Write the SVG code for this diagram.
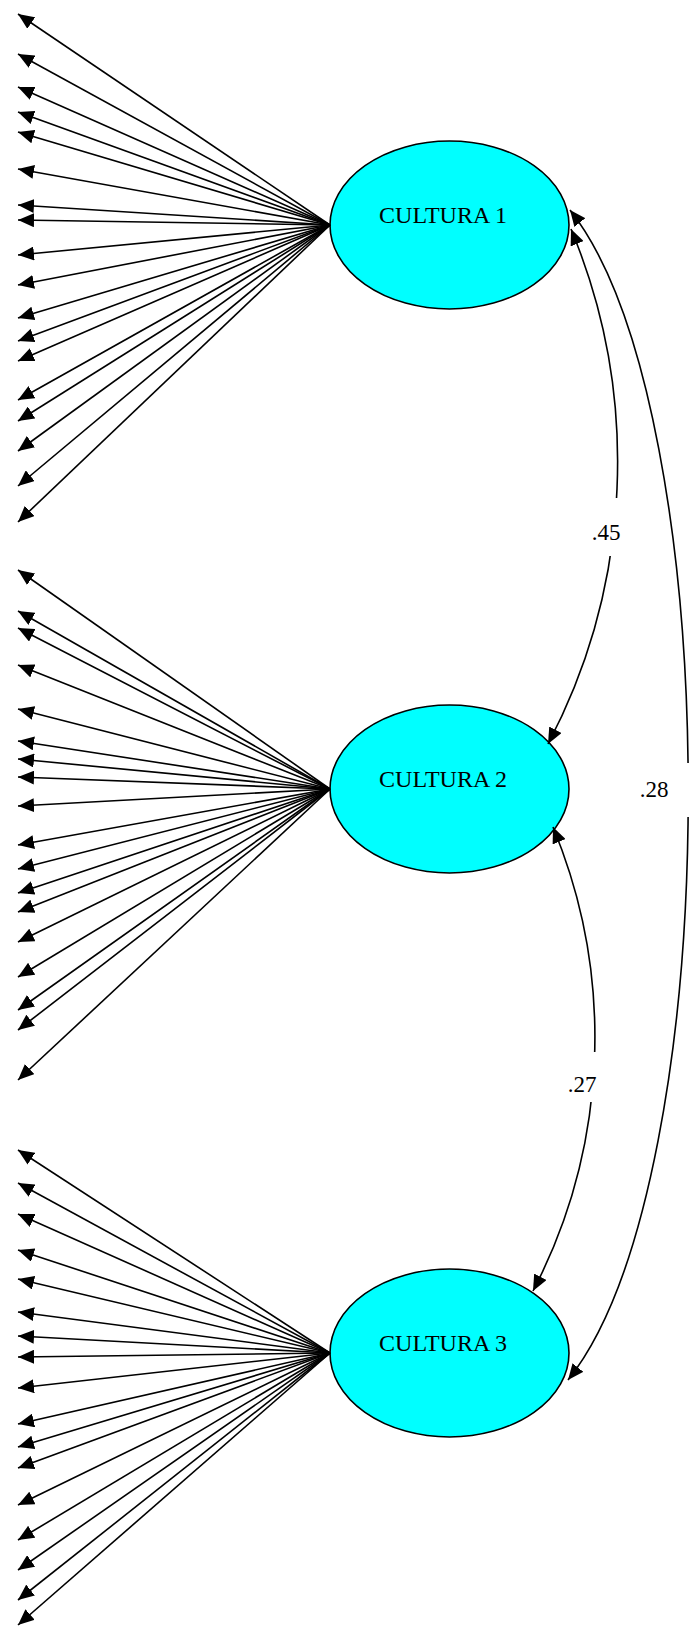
<svg xmlns="http://www.w3.org/2000/svg" width="700" height="1630" viewBox="0 0 700 1630">
<style>
.lat{fill:#00FFFF;stroke:#000;stroke-width:1.6}
.lbl{font-family:"Liberation Serif","Times New Roman",serif;font-size:24px;fill:#000;text-anchor:middle}
.num{font-family:"Liberation Serif","Times New Roman",serif;font-size:23px;fill:#000;text-anchor:middle}
.ln{stroke:#000;stroke-width:1.6;fill:none;marker-end:url(#ah)}
.cv{stroke:#000;stroke-width:1.6;fill:none;marker-end:url(#ah);marker-start:url(#ahs)}
</style>
<defs>
<marker id="ah" markerUnits="userSpaceOnUse" markerWidth="16" markerHeight="14" refX="16" refY="7" orient="auto"><path d="M0,0 L16,7 L0,14 z" fill="#000"/></marker>
<marker id="ahs" markerUnits="userSpaceOnUse" markerWidth="16" markerHeight="14" refX="16" refY="7" orient="auto-start-reverse"><path d="M0,0 L16,7 L0,14 z" fill="#000"/></marker>
</defs>
<rect width="700" height="1630" fill="#fff"/>
<g id="cultura1"><ellipse class="lat" cx="449.5" cy="225" rx="119.5" ry="84"/><text class="lbl" x="443" y="223">CULTURA 1</text></g>
<g id="cultura2"><ellipse class="lat" cx="449.5" cy="789" rx="119.5" ry="84"/><text class="lbl" x="443" y="787">CULTURA 2</text></g>
<g id="cultura3"><ellipse class="lat" cx="449.5" cy="1353" rx="119.5" ry="84"/><text class="lbl" x="443" y="1351">CULTURA 3</text></g>
<g id="connectors">
<path class="ln" d="M330,225 L18,14"/>
<path class="ln" d="M330,225 L18,54"/>
<path class="ln" d="M330,225 L18,87"/>
<path class="ln" d="M330,225 L18,112"/>
<path class="ln" d="M330,225 L18,132"/>
<path class="ln" d="M330,225 L18,169"/>
<path class="ln" d="M330,225 L18,205"/>
<path class="ln" d="M330,225 L18,220"/>
<path class="ln" d="M330,225 L18,255"/>
<path class="ln" d="M330,225 L18,285"/>
<path class="ln" d="M330,225 L18,318"/>
<path class="ln" d="M330,225 L18,341"/>
<path class="ln" d="M330,225 L18,361"/>
<path class="ln" d="M330,225 L18,400"/>
<path class="ln" d="M330,225 L18,421"/>
<path class="ln" d="M330,225 L18,451"/>
<path class="ln" d="M330,225 L18,486"/>
<path class="ln" d="M330,225 L18,522"/>
<path class="ln" d="M330,789 L18,570"/>
<path class="ln" d="M330,789 L18,611"/>
<path class="ln" d="M330,789 L18,628"/>
<path class="ln" d="M330,789 L18,665"/>
<path class="ln" d="M330,789 L18,709"/>
<path class="ln" d="M330,789 L18,741"/>
<path class="ln" d="M330,789 L18,759"/>
<path class="ln" d="M330,789 L18,777"/>
<path class="ln" d="M330,789 L18,806"/>
<path class="ln" d="M330,789 L18,845"/>
<path class="ln" d="M330,789 L18,869"/>
<path class="ln" d="M330,789 L18,893"/>
<path class="ln" d="M330,789 L18,912"/>
<path class="ln" d="M330,789 L18,942"/>
<path class="ln" d="M330,789 L18,977"/>
<path class="ln" d="M330,789 L18,1010"/>
<path class="ln" d="M330,789 L18,1030"/>
<path class="ln" d="M330,789 L18,1080"/>
<path class="ln" d="M330,1353 L18,1150"/>
<path class="ln" d="M330,1353 L18,1183"/>
<path class="ln" d="M330,1353 L18,1214"/>
<path class="ln" d="M330,1353 L18,1250"/>
<path class="ln" d="M330,1353 L18,1279"/>
<path class="ln" d="M330,1353 L18,1312"/>
<path class="ln" d="M330,1353 L18,1336"/>
<path class="ln" d="M330,1353 L18,1357"/>
<path class="ln" d="M330,1353 L18,1388"/>
<path class="ln" d="M330,1353 L18,1424"/>
<path class="ln" d="M330,1353 L18,1447"/>
<path class="ln" d="M330,1353 L18,1468"/>
<path class="ln" d="M330,1353 L18,1505"/>
<path class="ln" d="M330,1353 L18,1540"/>
<path class="ln" d="M330,1353 L18,1570"/>
<path class="ln" d="M330,1353 L18,1600"/>
<path class="ln" d="M330,1353 L18,1625"/>
<path class="cv" d="M571,229 A606,606 0 0 1 548,744"/>
<path class="cv" d="M553,827 A550,550 0 0 1 533,1291"/>
<path class="cv" d="M570,210 C728,410 728,1180 568,1380"/>
<rect x="590" y="498" width="35" height="58" fill="#fff"/>
<rect x="566" y="1052" width="34" height="50" fill="#fff"/>
<rect x="636" y="763" width="56" height="54" fill="#fff"/>
<text class="num" x="606" y="540">.45</text>
<text class="num" x="582" y="1092">.27</text>
<text class="num" x="654" y="797">.28</text>
</g>
</svg>
